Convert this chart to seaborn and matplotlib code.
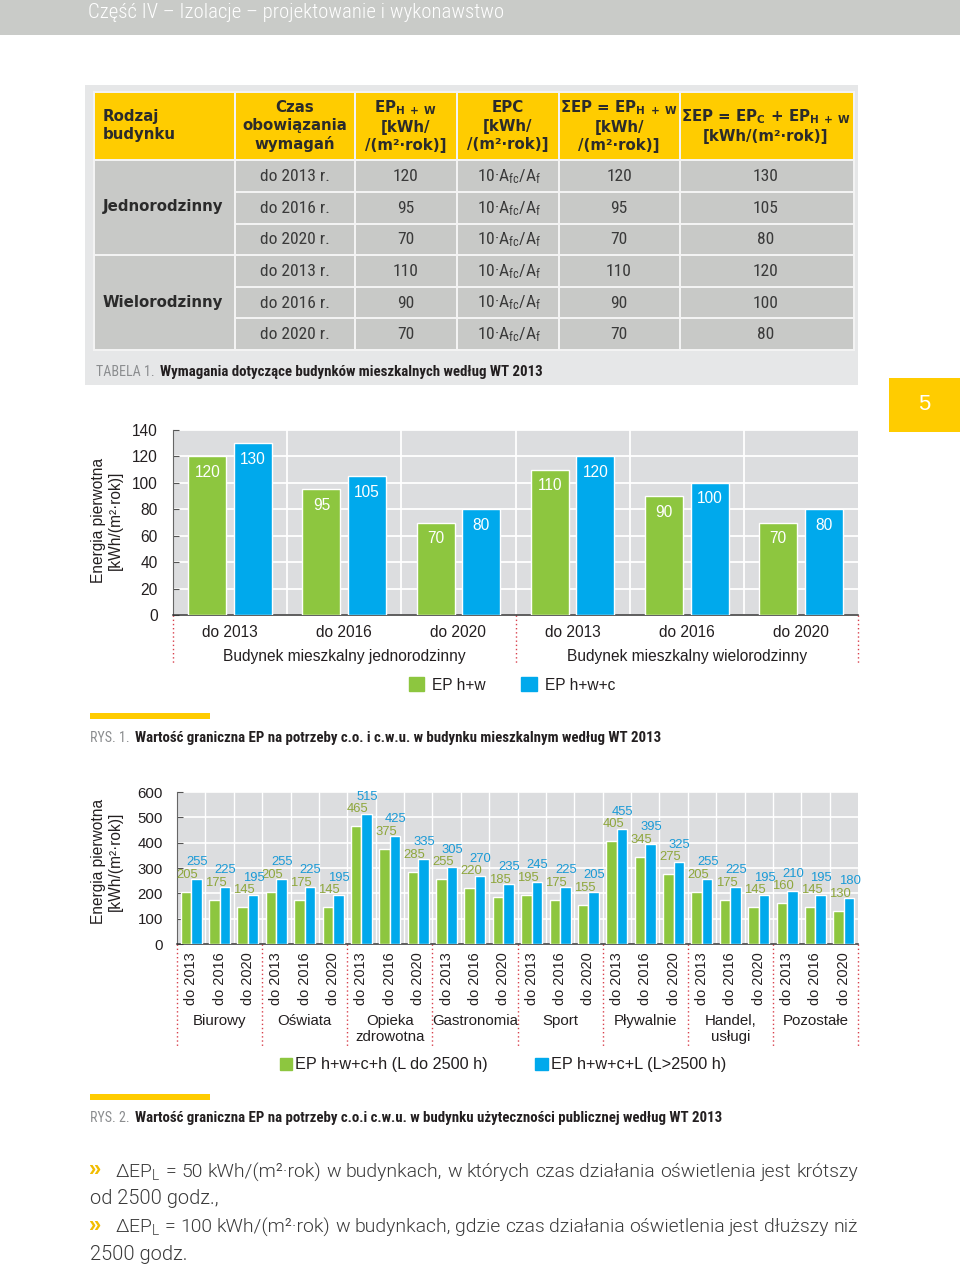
import numpy as np
import pandas as pd
import seaborn as sns
import matplotlib
matplotlib.use("Agg")
import matplotlib.pyplot as plt
from matplotlib import font_manager as fm
from matplotlib.patches import Rectangle, Patch
from matplotlib.font_manager import FontProperties

# ---------------- data ----------------
header_title = "Część IV – Izolacje – projektowanie i wykonawstwo"
page_number = "5"

table_types = ["Jednorodzinny", "Wielorodzinny"]
table_periods = ["do 2013 r.", "do 2016 r.", "do 2020 r."]
table_ep_hw = [120, 95, 70, 110, 90, 70]
table_epc = r"10·A$_{\mathregular{fc}}$/A$_{\mathregular{f}}$"
table_sum_hw = [120, 95, 70, 110, 90, 70]
table_sum_c_hw = [130, 105, 80, 120, 100, 80]

c1_groups = ["Budynek mieszkalny jednorodzinny", "Budynek mieszkalny wielorodzinny"]
c1_periods = ["do 2013", "do 2016", "do 2020"]
c1_series = ["EP h+w", "EP h+w+c"]
c1_ep_hw = [120, 95, 70, 110, 90, 70]
c1_ep_hwc = [130, 105, 80, 120, 100, 80]
c1_yticks = [0, 20, 40, 60, 80, 100, 120, 140]

c2_groups = ["Biurowy", "Oświata", "Opieka\nzdrowotna", "Gastronomia", "Sport",
             "Pływalnie", "Handel,\nusługi", "Pozostałe"]
c2_periods = ["do 2013", "do 2016", "do 2020"]
c2_series = ["EP h+w+c+h (L do 2500 h)", "EP h+w+c+L (L>2500 h)"]
c2_short = [205, 175, 145, 205, 175, 145, 465, 375, 285, 255, 220, 185,
            195, 175, 155, 405, 345, 275, 205, 175, 145, 160, 145, 130]
c2_long = [255, 225, 195, 255, 225, 195, 515, 425, 335, 305, 270, 235,
           245, 225, 205, 455, 395, 325, 255, 225, 195, 210, 195, 180]
c2_yticks = [0, 100, 200, 300, 400, 500, 600]

cap1_label, cap1_text = "TABELA 1.", "Wymagania dotyczące budynków mieszkalnych według WT 2013"
cap2_label, cap2_text = "RYS. 1.", "Wartość graniczna EP na potrzeby c.o. i c.w.u. w budynku mieszkalnym według WT 2013"
cap3_label, cap3_text = "RYS. 2.", "Wartość graniczna EP na potrzeby c.o.i c.w.u. w budynku użyteczności publicznej według WT 2013"
bullet1 = r"ΔEP$_{\mathregular{L}}$ = 50 kWh/(m²·rok) w budynkach, w których czas działania oświetlenia jest krótszy"
bullet1b = "od 2500 godz.,"
bullet2 = r"ΔEP$_{\mathregular{L}}$ = 100 kWh/(m²·rok) w budynkach, gdzie czas działania oświetlenia jest dłuższy niż"
bullet2b = "2500 godz."

# ---------------- style ----------------
W, H = 960, 1268
YEL = "#ffcc00"
GREEN = "#8dc63f"
BLUE = "#00a9ec"
CELL = "#c8c9c7"
CHART_BG = "#dcdddf"
DARK = "#231f20"

sns.set_theme(style="white")
ttf = fm.fontManager.ttflist
names = {f.name for f in ttf}


def pick(cands, default):
    for c in cands:
        if c in names:
            return c
    return default


COND = pick(["Roboto Condensed", "Liberation Sans Narrow", "DejaVu Sans Condensed",
             "Noto Sans Condensed", "Open Sans Condensed"], None)
COND_STRETCH = "normal"
if COND is None:
    COND = "DejaVu Sans"
    for fam in ["Noto Sans", "DejaVu Sans", "Open Sans", "Roboto"]:
        if any(f.name == fam and f.stretch in ("condensed", "semi-condensed", "extra-condensed")
               for f in ttf):
            COND = fam
            COND_STRETCH = "condensed"
            break
REG = pick(["Liberation Sans", "Lato", "DejaVu Sans"], "DejaVu Sans")
LIGHT = pick(["Roboto", "Lato", "Open Sans", "Liberation Sans"], "DejaVu Sans")
LIGHT_W = 300 if any(f.name == LIGHT and f.weight in (300, "light") for f in ttf) else "normal"
COND_LIGHT_W = 300 if any(f.name == COND and f.weight in (300, "light") for f in ttf) else "normal"
VERD = "DejaVu Sans"

CFAM = [COND, "DejaVu Sans"]
RFAM = [REG, "DejaVu Sans"]
LFAM = [LIGHT, "DejaVu Sans"]
VFAM = [VERD]

plt.rcParams["font.family"] = RFAM
plt.rcParams["mathtext.fontset"] = "dejavusans"
plt.rcParams["mathtext.default"] = "regular"

fig = plt.figure(figsize=(W / 100, H / 100), dpi=100)
fig.patch.set_facecolor("white")
renderer = fig.canvas.get_renderer()


def px(v):
    return v * 0.72


def T(x, y, s, size, kind="cond", **kw):
    kw.setdefault("va", "center")
    kw.setdefault("color", DARK)
    if kind == "cond":
        kw.setdefault("fontstretch", COND_STRETCH)
        fam = CFAM
    elif kind == "light":
        fam = LFAM
    elif kind == "verd":
        fam = VFAM
    else:
        fam = RFAM
    return fig.text(x / W, 1 - y / H, s, fontsize=px(size), family=fam, **kw)


def R(x0, y0, x1, y1, color, z=-5):
    fig.add_artist(Rectangle((x0 / W, 1 - y1 / H), (x1 - x0) / W, (y1 - y0) / H,
                             transform=fig.transFigure, facecolor=color,
                             edgecolor="none", zorder=z))


def fit(x0, x1, y, s, size, **kw):
    a = T(x0, y, s, size, **kw)
    w = a.get_window_extent(renderer).width
    a.set_fontsize(a.get_fontsize() * (x1 - x0) / w)
    return a


def justify(x0, x1, y, line, size, **kw):
    words = line.split(" ")
    for _ in range(8):
        arts = [T(x0, y, w, size, **kw) for w in words]
        widths = [a.get_window_extent(renderer).width for a in arts]
        gap = (x1 - x0 - sum(widths)) / max(len(words) - 1, 1)
        if gap >= 3.5:
            break
        for a in arts:
            a.remove()
        size *= 0.97
    x = x0
    for a, wd in zip(arts, widths):
        a.set_x(x / W)
        x += wd + gap


def caption(x, y, label, text, x_end):
    a = T(x, y, label, 14, color="#8b8d8f")
    w = a.get_window_extent(renderer).width
    fit(x + w + 5, x_end, y, text, 15, color=DARK, weight="bold")


# ---------------- page header ----------------
R(0, 0, W, 35, "#c9cbc8")
fit(88, 503, 12, header_title, 19, color="white", weight=COND_LIGHT_W)
R(889, 378, 960, 432, YEL)
T(924, 405, page_number, 22, kind="reg", color="white", ha="center")

# ---------------- table ----------------
R(85, 85, 858, 385, "#e6e7e8")
R(93, 91, 855, 351, "#f3f3f3")
cols = [95, 235, 355, 457, 559, 680, 854]
for i in range(6):
    R(cols[i] + (1 if i else 0), 93, cols[i + 1] - 1, 159, YEL)
rows = [(161, 191), (193, 223), (225, 254), (256, 286), (288, 317), (319, 349)]
R(95, 161, 234, 254, CELL)
R(95, 256, 234, 349, CELL)
for a, b in rows:
    for i in range(1, 6):
        R(cols[i] + 1, a, cols[i + 1] - 1, b, CELL)

HC = "#2b2b2b"
LS = 1.25
hb = dict(weight="bold", linespacing=LS, ma="center", color=HC)
T(103, 126, "Rodzaj\nbudynku", 15, kind="verd", weight="bold", linespacing=LS, color=HC)
T(295, 126, "Czas\nobowiązania\nwymagań", 15, kind="verd", ha="center", **hb)
T(406, 126, "EP$_{\\mathbf{H\\ +\\ W}}$\n[kWh/\n/(m²·rok)]", 15, kind="verd", ha="center", **hb)
T(508, 126, "EPC\n[kWh/\n/(m²·rok)]", 15, kind="verd", ha="center", **hb)
T(619, 126, "ΣEP = EP$_{\\mathbf{H\\ +\\ W}}$\n[kWh/\n/(m²·rok)]", 15, kind="verd",
  ha="center", **hb)
T(766, 126, "ΣEP = EP$_{\\mathbf{C}}$ + EP$_{\\mathbf{H\\ +\\ W}}$\n[kWh/(m²·rok)]", 15,
  kind="verd", ha="center", **hb)

T(103, 207, table_types[0], 15, kind="verd", weight="bold", color=HC)
T(103, 302, table_types[1], 15, kind="verd", weight="bold", color=HC)
BODY = "#3a3a3a"
for r, (a, b) in enumerate(rows):
    yc = (a + b) / 2 + 0.5
    T(295, yc, table_periods[r % 3], 17.5, ha="center", color=BODY)
    T(406, yc, str(table_ep_hw[r]), 17.5, ha="center", color=BODY)
    T(509, yc, table_epc, 17.5, ha="center", color=BODY)
    T(619, yc, str(table_sum_hw[r]), 17.5, ha="center", color=BODY)
    T(766, yc, str(table_sum_c_hw[r]), 17.5, ha="center", color=BODY)

caption(96, 372, cap1_label, cap1_text, 545)

# ---------------- chart 1 ----------------
ax1 = fig.add_axes([173 / W, 1 - 615 / H, (858 - 173) / W, (615 - 430) / H])
cats1 = [f"{g}|{p}" for g in c1_groups for p in c1_periods]
df1 = pd.DataFrame({
    "cat": cats1 * 2,
    "value": c1_ep_hw + c1_ep_hwc,
    "series": [c1_series[0]] * len(cats1) + [c1_series[1]] * len(cats1),
})
sns.barplot(data=df1, x="cat", y="value", hue="series", order=cats1, hue_order=c1_series,
            palette=[GREEN, BLUE], saturation=1, width=0.8, gap=0.17, legend=False,
            ax=ax1, zorder=3)
ax1.set_facecolor(CHART_BG)
ax1.set_axisbelow(True)
ax1.set_xlim(-0.5, len(cats1) - 0.5)
ax1.set_ylim(0, 140)
ax1.set_yticks(c1_yticks)
ax1.set_yticklabels([str(v) for v in c1_yticks])
ax1.grid(axis="y", color="white", lw=1.3, zorder=1)
for bnd in np.arange(0.5, len(cats1) - 0.5):
    ax1.axvline(bnd, color="white", lw=1.3, zorder=1)
ax1.set_xticks(range(len(cats1)))
ax1.set_xticklabels(c1_periods * len(c1_groups))
ax1.set_xticks(np.arange(-0.5, len(cats1)), minor=True)
ax1.tick_params(axis="x", which="major", length=0, pad=7, labelsize=px(15.5), labelcolor=DARK)
ax1.tick_params(axis="x", which="minor", length=7, direction="inout", color="#555", width=0.9)
ax1.tick_params(axis="y", length=4, direction="in", color="#555", width=0.8, pad=11,
                labelsize=px(15.5), labelcolor=DARK, left=True)
ax1.set_xlabel("")
ax1.set_ylabel("")
for s in ["top", "right"]:
    ax1.spines[s].set_visible(False)
ax1.spines["left"].set_color("#666")
ax1.spines["left"].set_linewidth(0.8)
ax1.spines["bottom"].set_color("#333")
ax1.spines["bottom"].set_linewidth(1.1)

for cont, vals in zip(ax1.containers, [c1_ep_hw, c1_ep_hwc]):
    for p, v in zip(cont.patches, vals):
        ax1.annotate(str(v), (p.get_x() + p.get_width() / 2, p.get_height()),
                     xytext=(0, -px(16)), textcoords="offset points", ha="center",
                     va="center", color="white", fontsize=px(15.5), zorder=5)

xt1 = ax1.get_xaxis_transform()
h1 = 615 - 430
for gi, g in enumerate(c1_groups):
    ax1.text(gi * 3 + 1, (615 - 656) / h1, g, transform=xt1, ha="center", va="center",
             fontsize=px(15.5), color=DARK)
for bnd in [-0.5, 2.5, 5.5]:
    ax1.plot([bnd, bnd], [0, (615 - 664) / h1], transform=xt1, clip_on=False,
             color="#d8404c", lw=1.0, ls=(0, (1, 2)))

T(107, 520, "Energia pierwotna\n[kWh/(m²·rok)]", 15.5, kind="reg", rotation=90,
  ha="center", ma="center", linespacing=1.15)

fig.legend(handles=[Patch(color=GREEN), Patch(color=BLUE)], labels=c1_series,
           loc="center", bbox_to_anchor=(512 / W, 1 - 685 / H), ncol=2, frameon=False,
           handlelength=1.0, handleheight=1.0, handletextpad=0.5, columnspacing=2.3,
           prop=FontProperties(family=RFAM, size=px(15.5)), labelcolor=DARK)

R(90, 713, 210, 719, YEL)
caption(90, 738, cap2_label, cap2_text, 662)

# ---------------- chart 2 ----------------
ax2 = fig.add_axes([177 / W, 1 - 944 / H, (858 - 177) / W, (944 - 792) / H])
cats2 = [f"{g}|{p}" for g in c2_groups for p in c2_periods]
df2 = pd.DataFrame({
    "cat": cats2 * 2,
    "value": c2_short + c2_long,
    "series": [c2_series[0]] * len(cats2) + [c2_series[1]] * len(cats2),
})
sns.barplot(data=df2, x="cat", y="value", hue="series", order=cats2, hue_order=c2_series,
            palette=[GREEN, BLUE], saturation=1, width=0.74, gap=0, legend=False,
            ax=ax2, zorder=3)
ax2.set_facecolor(CHART_BG)
ax2.set_axisbelow(True)
ax2.set_xlim(-0.5, len(cats2) - 0.5)
ax2.set_ylim(0, 600)
ax2.set_yticks(c2_yticks)
ax2.set_yticklabels([str(v) for v in c2_yticks])
ax2.grid(axis="y", color="white", lw=1.2, zorder=1)
for bnd in np.arange(0.5, len(cats2) - 0.5):
    ax2.axvline(bnd, color="white", lw=1.0, zorder=1)
ax2.set_xticks(range(len(cats2)))
ax2.set_xticklabels(c2_periods * len(c2_groups), rotation=90)
ax2.set_xticks(np.arange(-0.5, len(cats2)), minor=True)
ax2.tick_params(axis="x", which="major", length=0, pad=6, labelsize=px(14.5), labelcolor=DARK)
ax2.tick_params(axis="x", which="minor", length=6, direction="inout", color="#555", width=0.9)
ax2.tick_params(axis="y", length=4, direction="in", color="#555", width=0.8, pad=10,
                labelsize=px(15), labelcolor=DARK, left=True)
ax2.set_xlabel("")
ax2.set_ylabel("")
for s in ["top", "right"]:
    ax2.spines[s].set_visible(False)
ax2.spines["left"].set_color("#666")
ax2.spines["left"].set_linewidth(0.8)
ax2.spines["bottom"].set_color("#333")
ax2.spines["bottom"].set_linewidth(1.1)

for cont, vals, col, dx in zip(ax2.containers, [c2_short, c2_long],
                               ["#8ea63c", "#1a9ad6"], [1.5, 0.5]):
    for p, v in zip(cont.patches, vals):
        ax2.annotate(str(v), (p.get_x() + p.get_width() / 2, p.get_height()),
                     xytext=(px(dx), px(14)), textcoords="offset points", ha="center",
                     va="baseline", color=col, fontsize=px(13), zorder=5,
                     annotation_clip=False)

xt2 = ax2.get_xaxis_transform()
h2 = 944 - 792
for gi, g in enumerate(c2_groups):
    ax2.text(gi * 3 + 1, (944 - 1014) / h2, g, transform=xt2, ha="center", va="top",
             fontsize=px(15), color=DARK, linespacing=1.15)
for bnd in np.arange(-0.5, len(cats2), 3):
    ax2.plot([bnd, bnd], [0, (944 - 1048) / h2], transform=xt2, clip_on=False,
             color="#d8404c", lw=1.0, ls=(0, (1, 2)))

T(107, 861, "Energia pierwotna\n[kWh/(m²·rok)]", 15.5, kind="reg", rotation=90,
  ha="center", ma="center", linespacing=1.15)

fig.legend(handles=[Patch(color=GREEN), Patch(color=BLUE)], labels=c2_series,
           loc="center", bbox_to_anchor=(503 / W, 1 - 1065 / H), ncol=2, frameon=False,
           handlelength=0.75, handleheight=0.75, handletextpad=0.2, columnspacing=2.9,
           prop=FontProperties(family=RFAM, size=px(16.3)), labelcolor=DARK)

R(90, 1094, 210, 1100, YEL)
caption(90, 1118, cap3_label, cap3_text, 724)

# ---------------- bullets ----------------
TXT = "#3a3a3a"
T(89, 1171, "»", 22, kind="reg", color="#f2bd00", weight="bold")
justify(115, 858, 1172, bullet1, 20, kind="light", color=TXT, weight=LIGHT_W)
T(90, 1199, bullet1b, 20, kind="light", color=TXT, weight=LIGHT_W)
T(89, 1226, "»", 22, kind="reg", color="#f2bd00", weight="bold")
justify(115, 858, 1227, bullet2, 20, kind="light", color=TXT, weight=LIGHT_W)
T(90, 1254, bullet2b, 20, kind="light", color=TXT, weight=LIGHT_W)

fig.savefig("out.png", dpi=100, facecolor="white")
